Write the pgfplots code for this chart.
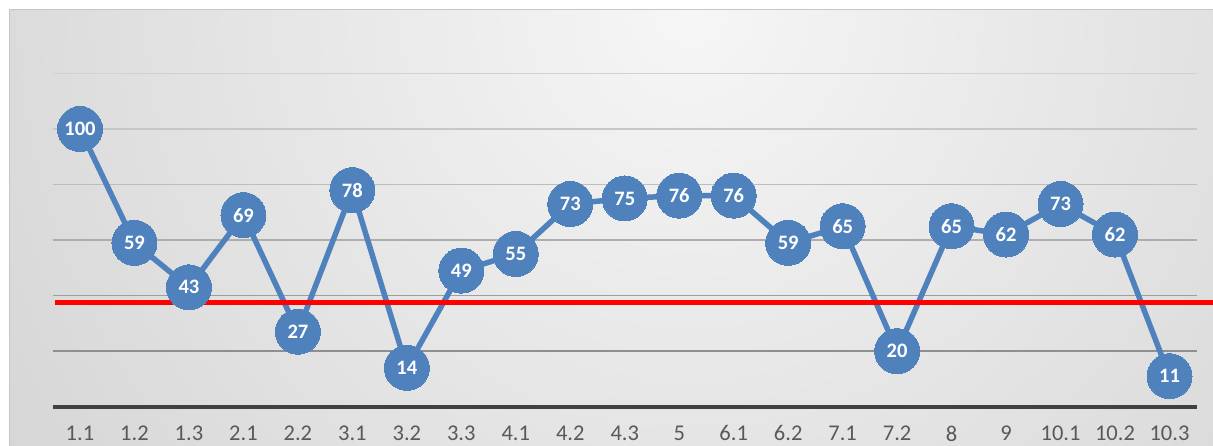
\documentclass[border=0pt]{standalone}
\usepackage{fontspec}
\setmainfont{Carlito}
\usepackage{pgfplots}
\pgfplotsset{compat=1.18}
\definecolor{myblue}{HTML}{4F81BD}
\definecolor{tickgray}{HTML}{595959}
\definecolor{axisgray}{HTML}{404040}
\definecolor{bginner}{HTML}{F6F6F6}
\definecolor{bgouter}{HTML}{BBBBBB}
\begin{document}
\begin{tikzpicture}[x=1pt,y=1pt]
\path[use as bounding box] (0,0) rectangle (1213,446);
\begin{scope}
\clip (9,-30) rectangle (1240,436);
\fill[bgouter] (9,-30) rectangle (1240,436);
\shade[inner color=bginner, outer color=bgouter] (690,436) circle (1500);
\end{scope}
\draw[gray!45, line width=1pt] (9,-30) -- (9,436) -- (1240,436);
\begin{axis}[
  at={(52.75pt,39.3pt)}, anchor=south west,
  scale only axis, width=1144pt, height=333.2pt,
  xmin=-0.5, xmax=20.5, ymin=0, ymax=120,
  clip=false,
  axis line style={draw=none},
  major tick length=0pt,
  ytick=\empty,
  xtick={0,...,20},
  xticklabels={1.1,1.2,1.3,2.1,2.2,3.1,3.2,3.3,4.1,4.2,4.3,5,6.1,6.2,7.1,7.2,8,9,10.1,10.2,10.3},
  xticklabel style={font=\fontsize{22.5}{27}\selectfont, text=tickgray},
  xticklabel shift=15.5pt,
  /pgf/number format/assume math mode=true,
]
\addplot[forget plot, color=black!18, line width=1.5pt] coordinates {(-0.5,120) (20.5,120)};
\addplot[forget plot, color=black!22, line width=1.5pt] coordinates {(-0.5,100) (20.5,100)};
\addplot[forget plot, color=black!26, line width=1.5pt] coordinates {(-0.5,80) (20.5,80)};
\addplot[forget plot, color=black!32, line width=1.5pt] coordinates {(-0.5,60) (20.5,60)};
\addplot[forget plot, color=black!38, line width=1.5pt] coordinates {(-0.5,40) (20.5,40)};
\addplot[forget plot, color=black!44, line width=1.5pt] coordinates {(-0.5,20) (20.5,20)};
\addplot[forget plot, color=axisgray, line width=3.7pt] coordinates {(-0.5,0) (20.5,0)};
\addplot[color=myblue, line width=5.5pt, mark=*, mark size=22.5pt,
  mark options={fill=myblue, draw=myblue, line width=0pt},
  nodes near coords,
  every node near coord/.append style={anchor=center, text=white,
    font=\fontsize{20.5}{24}\selectfont\bfseries}]
coordinates {
(0,100) (1,59) (2,43) (3,69) (4,27) (5,78) (6,14) (7,49) (8,55) (9,73) (10,75)
(11,76) (12,76) (13,59) (14,65) (15,20) (16,65) (17,62) (18,73) (19,62) (20,11)
};
\addplot[forget plot, color=red, line width=5.5pt] coordinates {(-0.46,37.5) (21.5,37.5)};
\end{axis}
\end{tikzpicture}
\end{document}
